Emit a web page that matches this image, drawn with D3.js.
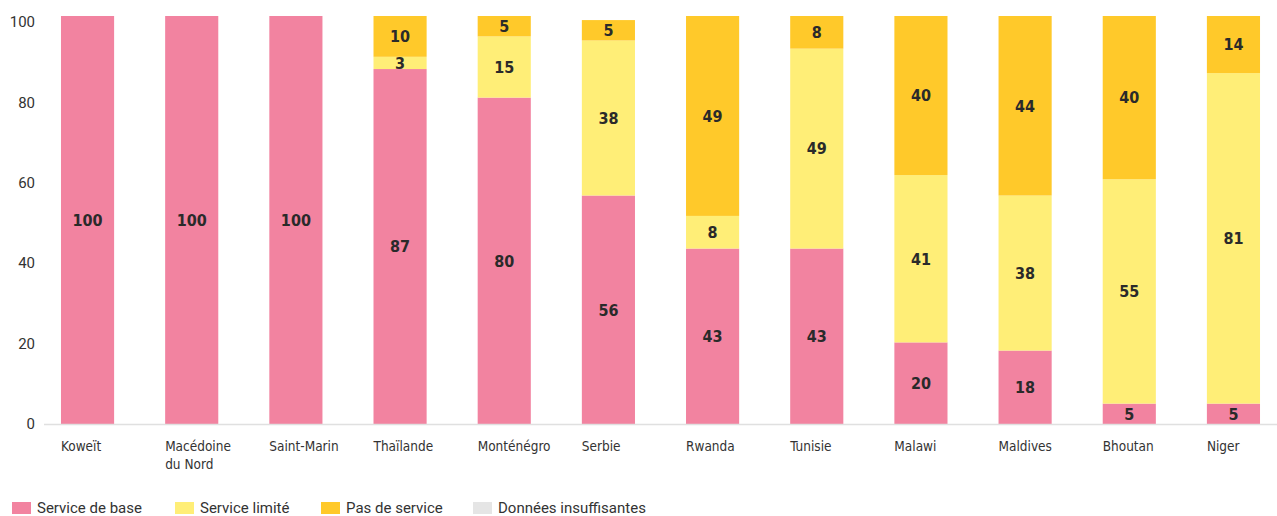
<!DOCTYPE html>
<html>
<head>
<meta charset="utf-8">
<script src="https://cdn.jsdelivr.net/npm/d3@7"></script>
<style>
  html, body { margin: 0; padding: 0; background: #fff; }
  svg { display: block; }
  .tick-label { font-family: Roboto, "Noto Sans", sans-serif; font-size: 15px; fill: #333; }
  .cat-label { font-family: "DejaVu Sans", sans-serif; font-stretch: condensed; font-size: 13.5px; fill: #333; }
  .val-label { font-family: "DejaVu Sans", sans-serif; font-stretch: condensed; font-weight: bold; font-size: 16px; fill: #2a2a2a; }
  .legend-label { font-family: Roboto, "Noto Sans", sans-serif; font-size: 15px; fill: #333; }
</style>
</head>
<body>
<svg id="chart" width="1277" height="516"></svg>
<script>
// Countries along the x axis
const categories = ["Koweït", "Macédoine du Nord", "Saint-Marin", "Thaïlande", "Monténégro", "Serbie",
                    "Rwanda", "Tunisie", "Malawi", "Maldives", "Bhoutan", "Niger"];
// Share of population (%) by service level
const serviceDeBase      = [100, 100, 100, 87, 80, 56, 43, 43, 20, 18, 5, 5];
const serviceLimite      = [0, 0, 0, 3, 15, 38, 8, 49, 41, 38, 55, 81];
const pasDeService       = [0, 0, 0, 10, 5, 5, 49, 8, 40, 44, 40, 14];
const donneesInsuff      = [0, 0, 0, 0, 0, 0, 0, 0, 0, 0, 0, 0];
const seriesNames = ["Service de base", "Service limité", "Pas de service", "Données insuffisantes"];
const yTicks = [0, 20, 40, 60, 80, 100];

const colors = ["#F283A0", "#FFEE77", "#FFC92A", "#E5E5E5"];
const seriesValues = [serviceDeBase, serviceLimite, pasDeService, donneesInsuff];

const rows = categories.map((c, i) => {
  const r = { cat: c };
  seriesNames.forEach((s, k) => r[s] = seriesValues[k][i]);
  return r;
});

const svg = d3.select("#chart");

const x = d3.scaleBand()
  .domain(categories)
  .range([44, 1277])
  .paddingInner(0.49)
  .paddingOuter(0.163);

const y = d3.scaleLinear()
  .domain([0, 100])
  .range([424, 16]);

// Tick labels sit slightly below the plotted value near the top
const yLabel = d3.scaleLinear()
  .domain([0, 100])
  .range([424, 22]);

// Y axis tick labels (no gridlines)
svg.append("g").selectAll("text")
  .data(yTicks)
  .join("text")
  .attr("class", "tick-label")
  .attr("x", 35)
  .attr("y", d => yLabel(d))
  .attr("dy", "0.35em")
  .attr("text-anchor", "end")
  .text(d => d);

// Stacked bars
const stack = d3.stack().keys(seriesNames);
const stacked = stack(rows);

const layers = svg.append("g").selectAll("g")
  .data(stacked)
  .join("g")
  .attr("fill", (d, i) => colors[i]);

layers.selectAll("rect")
  .data(d => d)
  .join("rect")
  .attr("x", d => x(d.data.cat))
  .attr("width", x.bandwidth())
  .attr("y", d => y(Math.min(d[1], 100)))
  .attr("height", d => Math.max(0, y(d[0]) - y(Math.min(d[1], 100))));

// Baseline
svg.append("line")
  .attr("x1", 44).attr("x2", 1277)
  .attr("y1", y(0) + 0.5).attr("y2", y(0) + 0.5)
  .attr("stroke", "#e0e0e0")
  .attr("stroke-width", 1.5);

// Value labels inside segments
stacked.forEach((layer, k) => {
  svg.append("g").selectAll("text")
    .data(layer.filter(d => d[1] - d[0] > 0))
    .join("text")
    .attr("class", "val-label")
    .attr("x", d => x(d.data.cat) + x.bandwidth() / 2)
    .attr("y", d => (y(d[0]) + y(Math.min(d[1], 100))) / 2)
    .attr("dy", "0.36em")
    .attr("text-anchor", "middle")
    .text(d => d.data[seriesNames[k]]);
});

// Category labels, wrapped on two lines where needed
const catLines = { "Macédoine du Nord": ["Macédoine", "du Nord"] };
const catG = svg.append("g");
categories.forEach(c => {
  const lines = catLines[c] || [c];
  const t = catG.append("text")
    .attr("class", "cat-label")
    .attr("x", x(c))
    .attr("y", 451);
  lines.forEach((l, i) => {
    t.append("tspan").attr("x", x(c)).attr("dy", i === 0 ? 0 : 18).text(l);
  });
});

// Legend
const legendX = [12, 175, 321, 473];
const legend = svg.append("g");
seriesNames.forEach((s, i) => {
  legend.append("rect")
    .attr("x", legendX[i]).attr("y", 502)
    .attr("width", 19).attr("height", 12)
    .attr("fill", colors[i]);
  legend.append("text")
    .attr("class", "legend-label")
    .attr("x", legendX[i] + 25).attr("y", 508)
    .attr("dy", "0.35em")
    .text(s);
});
</script>
</body>
</html>
